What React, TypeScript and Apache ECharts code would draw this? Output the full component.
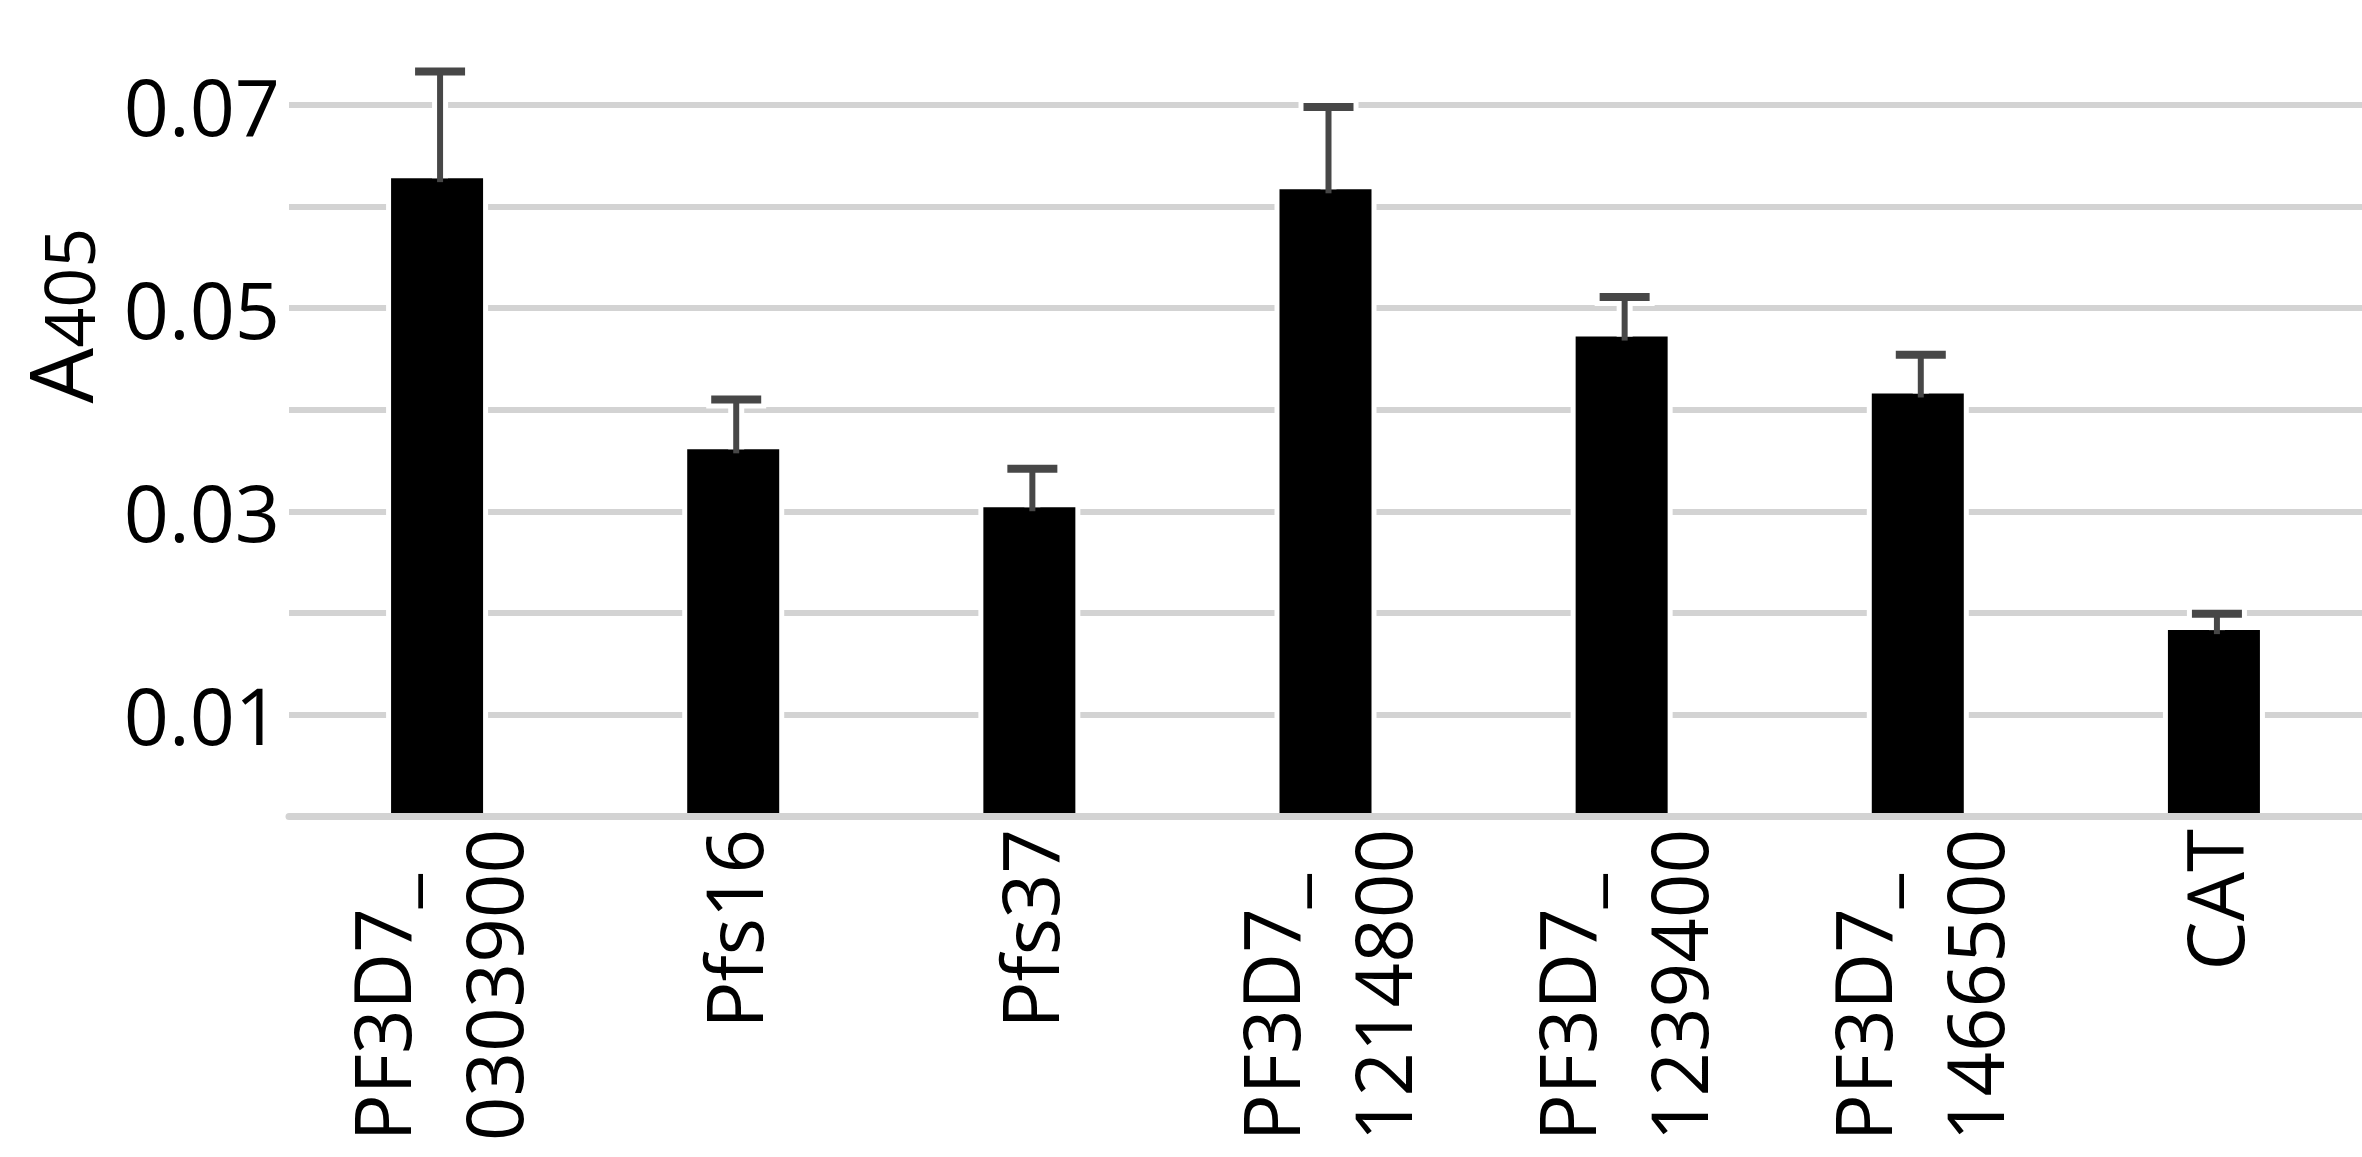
import React, { useEffect, useRef } from 'react';
import * as echarts from 'echarts';

const categories = [
  'PF3D7_0303900',
  'Pfs16',
  'Pfs37',
  'PF3D7_1214800',
  'PF3D7_1239400',
  'PF3D7_1466500',
  'CAT',
];
const means = [0.0628, 0.0361, 0.0304, 0.0617, 0.0472, 0.0416, 0.0183];
const errors = [0.0105, 0.0049, 0.0038, 0.0081, 0.0039, 0.0038, 0.0016];
const yTickLabels = ['0.01', '0.03', '0.05', '0.07'];
const yTitleMain = 'A';
const yTitleSub = '405';

const FONT = "'Open Sans', 'Noto Sans', sans-serif";
const BAR_W = 92;
const HALO = 5;

export default function App() {
  const ref = useRef<HTMLDivElement>(null);

  useEffect(() => {
    const chart = echarts.init(ref.current!, null, { renderer: 'svg' });
    const errData = categories.map((_, i) => [i, means[i] + errors[i], means[i]]);
    const haloData = categories.map((_, i) => [i, means[i]]);

    chart.setOption({
      animation: false,
      backgroundColor: '#ffffff',
      grid: { left: 289, right: 0, top: 105, bottom: 341, containLabel: false },
      xAxis: {
        type: 'category',
        data: categories,
        z: 3,
        axisLine: { lineStyle: { color: '#d3d3d3', width: 7 } },
        axisTick: { show: false },
        axisLabel: {
          interval: 0,
          rotate: 90,
          margin: 13,
          color: '#000',
          fontFamily: FONT,
          fontSize: 78,
          formatter: (v: string) =>
            v.startsWith('PF3D7_')
              ? `{l|PF3D7_}\n{l|${v.slice(6)}}`
              : `{l|${v}}`,
          rich: {
            l: {
              align: 'left',
              fontFamily: FONT,
              fontSize: 78,
              lineHeight: 112,
              color: '#000',
            },
          },
        },
      },
      yAxis: {
        type: 'value',
        min: 0,
        max: 0.07,
        interval: 0.01,
        axisLine: { show: false },
        axisTick: { show: false },
        splitLine: { lineStyle: { color: '#d3d3d3', width: 6 } },
        axisLabel: {
          margin: 9,
          color: '#000',
          fontFamily: FONT,
          fontSize: 79,
          formatter: (v: number) => {
            const s = v.toFixed(2);
            return yTickLabels.includes(s) ? s : '';
          },
        },
        name: `{a|${yTitleMain}}{b|${yTitleSub}}`,
        nameLocation: 'middle',
        nameRotate: 90,
        nameGap: 186,
        nameTextStyle: {
          padding: [0, 0, 0, 290],
          rich: {
            a: { fontFamily: FONT, fontSize: 88, lineHeight: 80, verticalAlign: 'bottom', color: '#000' },
            b: { fontFamily: FONT, fontSize: 70, lineHeight: 66, verticalAlign: 'bottom', color: '#000' },
          },
        },
      },
      series: [
        {
          type: 'custom',
          data: haloData,
          z: 1,
          silent: true,
          renderItem: (params: any, api: any) => {
            const xi = api.value(0);
            const top = api.coord([xi, api.value(1)]);
            const base = api.coord([xi, 0]);
            return {
              type: 'rect',
              shape: {
                x: top[0] - BAR_W / 2 - HALO,
                y: top[1] - HALO,
                width: BAR_W + 2 * HALO,
                height: base[1] - top[1] + HALO,
              },
              style: { fill: '#fff' },
            };
          },
        },
        {
          type: 'bar',
          data: means,
          barWidth: BAR_W,
          z: 2,
          itemStyle: { color: '#000' },
        },
        {
          type: 'custom',
          data: errData,
          z: 4,
          clip: false,
          renderItem: (params: any, api: any) => {
            const xi = api.value(0);
            const top = api.coord([xi, api.value(1)]);
            const base = api.coord([xi, api.value(2)]);
            const x = top[0] + 3;
            const capHalf = 25;
            const y0 = top[1];
            const y1 = base[1];
            return {
              type: 'group',
              children: [
                { type: 'line', shape: { x1: x, y1: y0, x2: x, y2: y1 }, style: { stroke: '#fff', lineWidth: 16 } },
                { type: 'line', shape: { x1: x - capHalf - 5, y1: y0, x2: x + capHalf + 5, y2: y0 }, style: { stroke: '#fff', lineWidth: 18 } },
                { type: 'line', shape: { x1: x, y1: y0, x2: x, y2: y1 + 4 }, style: { stroke: '#474747', lineWidth: 6 } },
                { type: 'line', shape: { x1: x - capHalf, y1: y0, x2: x + capHalf, y2: y0 }, style: { stroke: '#474747', lineWidth: 8 } },
              ],
            };
          },
        },
      ],
    });

    return () => chart.dispose();
  }, []);

  return (
    <div
      ref={ref}
      style={{ position: 'absolute', left: 0, top: 0, width: '2362px', height: '1157px' }}
    />
  );
}
